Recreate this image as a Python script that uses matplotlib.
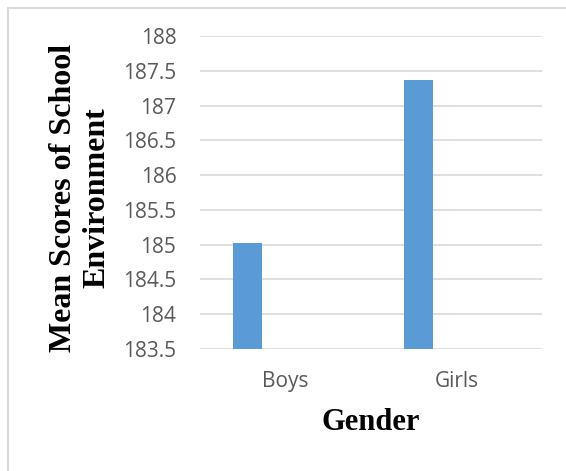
import matplotlib
matplotlib.use("Agg")
import matplotlib.pyplot as plt
import matplotlib.ticker as ticker
from matplotlib.patches import Rectangle
import numpy as np

categories = ["Boys", "Girls"]
mean_scores = [185.02, 187.37]
y_ticks = [183.5, 184, 184.5, 185, 185.5, 186, 186.5, 187, 187.5, 188]

fig = plt.figure(figsize=(5.66, 4.71), dpi=100)
ax = fig.add_axes([200 / 566, 1 - 349 / 471, 342 / 566, 313 / 471])

x = np.arange(len(categories))
# Excel-style clustered bar: the visible series sits left of centre
ax.bar(x - 0.222, mean_scores, width=0.17, color="#5b9bd5", bottom=0,
       zorder=3)

ax.set_xlim(-0.5, 1.5)
ax.set_ylim(183.5, 188)
ax.set_yticks(y_ticks)
ax.yaxis.set_major_formatter(ticker.FuncFormatter(lambda v, p: f"{v:g}"))
ax.set_xticks(x)
ax.set_xticklabels(categories)

ax.grid(axis="y", color="#d9d9d9", linewidth=1.2, zorder=0)
ax.set_axisbelow(True)
for side in ["top", "right", "left", "bottom"]:
    ax.spines[side].set_visible(False)
ax.tick_params(length=0, labelsize=15, labelcolor="#595959")
ax.tick_params(axis="y", pad=17)
ax.tick_params(axis="x", pad=16)
for lab in ax.get_xticklabels() + ax.get_yticklabels():
    lab.set_fontfamily("Open Sans")

fig.text(371 / 566, 1 - 423 / 471, "Gender", ha="center", va="center",
         fontsize=22, fontweight="bold", family="Liberation Serif")
fig.text(80 / 566, 1 - 198 / 471, "Mean Scores of School\nEnvironment",
         ha="center", va="center", rotation=90, multialignment="center",
         fontsize=23, fontweight="bold", family="Liberation Serif",
         linespacing=1.2)

# chart border (only top and left visible in the crop)
fig.patches.append(Rectangle((7.5 / 566, -0.1), 1.2, 1.1 - 7.5 / 471,
                             transform=fig.transFigure, fill=False,
                             edgecolor="#d9d9d9", linewidth=1.5))

fig.savefig("out.png", dpi=100)
